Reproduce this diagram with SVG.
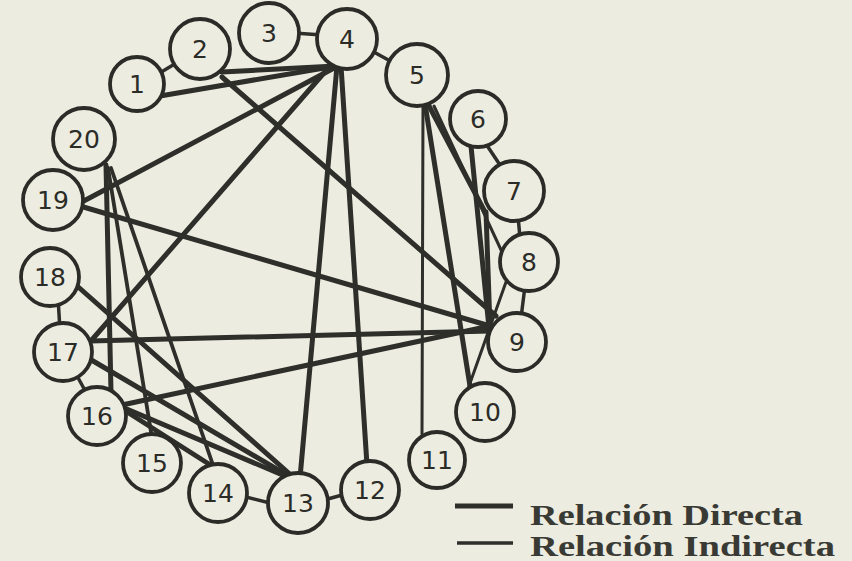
<svg xmlns="http://www.w3.org/2000/svg" width="852" height="561" viewBox="0 0 852 561">
<style>
.bg{fill:#ecece0}
.node circle{fill:#ecece0;stroke:#2b2b27;stroke-width:3.8}
.node text{font-family:"DejaVu Sans","Liberation Sans",sans-serif;font-size:25px;fill:#2b2b27;text-anchor:middle}
.thick{stroke:#2e2e2a;stroke-width:5;stroke-linecap:round;fill:none}
.mid{stroke:#2e2e2a;stroke-width:3.8;stroke-linecap:round;fill:none}
.thin{stroke:#2e2e2a;stroke-width:3;stroke-linecap:round;fill:none}
.link{stroke:#2e2e2a;stroke-width:3.5;fill:none}
.legend{font-family:"Liberation Serif","Times New Roman",serif;font-weight:bold;font-size:29px;fill:#3a3a35}
</style>
<rect class="bg" x="0" y="0" width="852" height="561"/>
<g id="connectors">
<line class="link" x1="158" y1="74" x2="178" y2="62"/>
<line class="link" x1="294" y1="33" x2="322" y2="35"/>
<line class="link" x1="372" y1="51" x2="392" y2="62"/>
<line class="link" x1="486" y1="144" x2="502" y2="168"/>
<line class="link" x1="518" y1="216" x2="520" y2="238"/>
<line class="link" x1="525" y1="286" x2="521" y2="318"/>
<line class="link" x1="324" y1="500" x2="346" y2="494"/>
<line class="link" x1="242" y1="496" x2="274" y2="504"/>
<line class="link" x1="76" y1="374" x2="88" y2="396"/>
<line class="link" x1="58" y1="298" x2="60" y2="330"/>
<line class="thick" x1="160" y1="96" x2="336" y2="66"/>
<line class="thick" x1="222" y1="72" x2="336" y2="66"/>
<line class="thick" x1="222" y1="77" x2="496" y2="316"/>
<line class="thick" x1="337" y1="66" x2="300" y2="478"/>
<line class="thick" x1="341" y1="66" x2="367" y2="465"/>
<line class="thick" x1="330" y1="66" x2="90" y2="342"/>
<line class="thick" x1="80" y1="203" x2="336" y2="67"/>
<line class="thick" x1="80" y1="206" x2="490" y2="326"/>
<line class="thick" x1="90" y1="341" x2="490" y2="331"/>
<line class="thick" x1="122" y1="405" x2="490" y2="326"/>
<line class="thick" x1="106" y1="165" x2="111" y2="392"/>
<line class="mid" x1="108" y1="168" x2="152" y2="438"/>
<line class="mid" x1="111" y1="168" x2="214" y2="468"/>
<line class="thick" x1="76" y1="285" x2="292" y2="476"/>
<line class="thick" x1="88" y1="358" x2="292" y2="478"/>
<line class="thick" x1="122" y1="407" x2="292" y2="479"/>
<line class="thick" x1="124" y1="410" x2="212" y2="466"/>
<line class="thin" x1="423" y1="104" x2="422" y2="434"/>
<line class="thick" x1="425" y1="104" x2="470" y2="386"/>
<line class="thick" x1="428" y1="104" x2="485" y2="212"/>
<line class="thin" x1="434" y1="106" x2="502" y2="252"/>
<line class="thick" x1="471" y1="146" x2="489" y2="328"/>
<line class="thick" x1="486" y1="212" x2="490" y2="328"/>
<line class="thin" x1="506" y1="282" x2="469" y2="386"/>
</g>
<g id="n1" class="node"><circle cx="137" cy="84" r="27"/><text x="137" y="93">1</text></g>
<g id="n2" class="node"><circle cx="200" cy="49" r="30"/><text x="200" y="58">2</text></g>
<g id="n3" class="node"><circle cx="269" cy="33" r="30"/><text x="269" y="42">3</text></g>
<g id="n4" class="node"><circle cx="347" cy="39" r="30"/><text x="347" y="48">4</text></g>
<g id="n5" class="node"><circle cx="417" cy="75" r="31"/><text x="417" y="84">5</text></g>
<g id="n6" class="node"><circle cx="478" cy="119" r="28"/><text x="478" y="128">6</text></g>
<g id="n7" class="node"><circle cx="514" cy="191" r="30"/><text x="514" y="200">7</text></g>
<g id="n8" class="node"><circle cx="529" cy="262" r="29"/><text x="529" y="271">8</text></g>
<g id="n9" class="node"><circle cx="517" cy="342" r="29"/><text x="517" y="351">9</text></g>
<g id="n10" class="node"><circle cx="485" cy="412" r="29"/><text x="485" y="421">10</text></g>
<g id="n11" class="node"><circle cx="437" cy="460" r="28"/><text x="437" y="469">11</text></g>
<g id="n12" class="node"><circle cx="370" cy="490" r="29"/><text x="370" y="499">12</text></g>
<g id="n13" class="node"><circle cx="298" cy="503" r="30"/><text x="298" y="512">13</text></g>
<g id="n14" class="node"><circle cx="218" cy="493" r="29"/><text x="218" y="502">14</text></g>
<g id="n15" class="node"><circle cx="152" cy="463" r="29"/><text x="152" y="472">15</text></g>
<g id="n16" class="node"><circle cx="97" cy="416" r="29"/><text x="97" y="425">16</text></g>
<g id="n17" class="node"><circle cx="63" cy="352" r="29"/><text x="63" y="361">17</text></g>
<g id="n18" class="node"><circle cx="50" cy="277" r="29"/><text x="50" y="286">18</text></g>
<g id="n19" class="node"><circle cx="53" cy="200" r="30"/><text x="53" y="209">19</text></g>
<g id="n20" class="node"><circle cx="84" cy="139" r="31"/><text x="84" y="148">20</text></g>
<g id="legend">
<line x1="455" y1="506" x2="513" y2="506" stroke="#2e2e2a" stroke-width="5"/>
<line x1="457" y1="543" x2="513" y2="543" stroke="#2e2e2a" stroke-width="3.5"/>
<text class="legend" x="530" y="525" textLength="273" lengthAdjust="spacingAndGlyphs">Relación Directa</text>
<text class="legend" x="530" y="556" textLength="305" lengthAdjust="spacingAndGlyphs">Relación Indirecta</text>
</g>
</svg>
